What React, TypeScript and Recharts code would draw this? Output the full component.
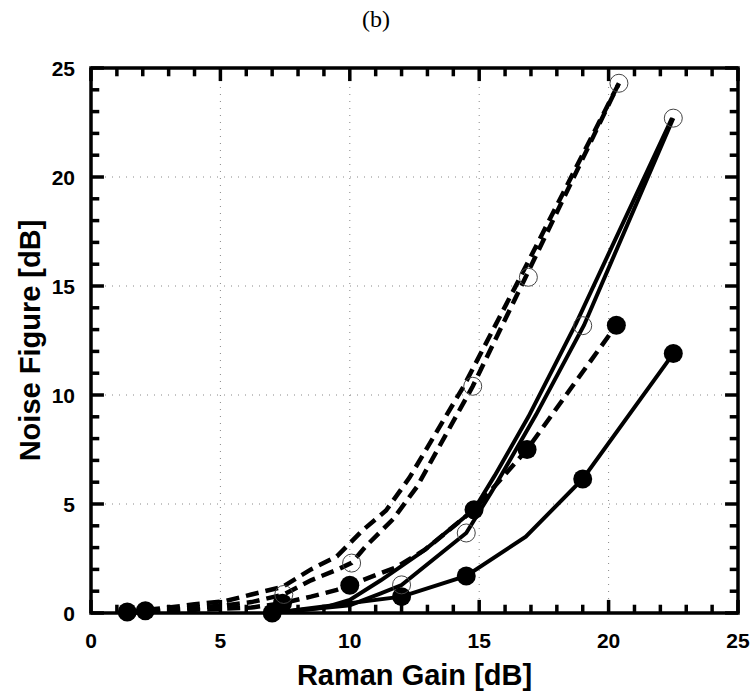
import React from 'react';
import { ComposedChart, Line, Scatter, XAxis, YAxis, ReferenceLine, ReferenceArea } from 'recharts';

// dashed curves
const gainDashA = [1.4, 3.0, 4.0, 5.2, 6.2, 7.4, 8.5, 9.5, 10.5, 11.4, 12.3, 14.4, 16.5, 20.4];
const nfDashA = [0.05, 0.25, 0.4, 0.55, 0.85, 1.2, 2.0, 2.6, 3.8, 4.7, 6.2, 10.4, 15.2, 24.3];
const gainDashB = [1.4, 3.0, 4.0, 5.2, 6.2, 7.45, 8.5, 9.5, 10.07, 10.65, 11.67, 12.6, 14.75, 16.75, 20.4];
const nfDashB = [0.0, 0.15, 0.25, 0.35, 0.5, 0.85, 1.5, 1.98, 2.3, 3.1, 4.3, 5.8, 10.4, 15.3, 24.3];
const gainDashC = [1.4, 2.1, 4.0, 6.2, 7.4, 8.5, 9.5, 10.0, 10.7, 11.8, 12.9, 14.8, 16.85, 18.6, 20.3];
const nfDashC = [0.05, 0.1, 0.15, 0.25, 0.45, 0.75, 1.06, 1.27, 1.6, 2.1, 2.9, 4.74, 7.5, 10.4, 13.2];

// solid curves
const gainSolidA = [7.0, 9.0, 10.0, 11.2, 12.9, 14.8, 15.6, 16.9, 18.75, 22.45];
const nfSolidA = [0.0, 0.25, 0.6, 1.5, 2.9, 4.75, 6.3, 9.0, 13.3, 22.7];
const gainSolidB = [7.0, 10.0, 11.2, 12.0, 14.5, 15.5, 17.2, 19.05, 22.5];
const nfSolidB = [0.0, 0.35, 0.9, 1.28, 3.67, 5.6, 9.1, 13.2, 22.7];
const gainSolidC = [7.0, 12.0, 14.5, 16.8, 19.0, 22.5];
const nfSolidC = [0.0, 0.75, 1.7, 3.5, 6.15, 11.9];

// measured points
const openDashX = [7.45, 10.07, 14.75, 16.9, 20.4];
const openDashY = [0.85, 2.29, 10.4, 15.4, 24.3];
const openSolidX = [12.0, 14.5, 19.0, 22.5];
const openSolidY = [1.29, 3.67, 13.18, 22.7];
const filledDashX = [1.4, 2.1, 7.4, 10.0, 14.8, 16.85, 20.3];
const filledDashY = [0.05, 0.1, 0.45, 1.27, 4.74, 7.5, 13.2];
const filledSolidX = [7.0, 12.0, 14.5, 19.0, 22.5];
const filledSolidY = [0.0, 0.75, 1.7, 6.15, 11.9];

const majorTicks = [0, 5, 10, 15, 20, 25];
const allTicks = [0, 1, 2, 3, 4, 5, 6, 7, 8, 9, 10, 11, 12, 13, 14, 15, 16, 17, 18, 19, 20, 21, 22, 23, 24, 25];
const gridValues = [5, 10, 15, 20];

const zip = (xs: number[], ys: number[]) => xs.map((x, i) => ({ x, y: ys[i] }));

const FONT = '"Liberation Sans", Arial, Helvetica, sans-serif';
const tickStyle = { fontFamily: FONT, fontWeight: 700, fontSize: 21, fill: '#000' };

// inward tick lengths, in axis units
const lenX = (v: number) => (v % 5 === 0 ? 0.6 : 0.38);
const lenY = (v: number) => (v % 5 === 0 ? 0.5 : 0.32);

const BottomLabel = (p: any) => (
  <text x={p.x} y={p.y + 35} textAnchor="middle" style={tickStyle}>{p.payload.value}</text>
);
const LeftLabel = (p: any) => (
  <text x={p.x - 16} y={p.y + 8} textAnchor="end" style={tickStyle}>{p.payload.value}</text>
);

const OpenDot = (p: any) => <circle cx={p.cx} cy={p.cy} r={9} fill="none" stroke="#444" strokeWidth={1} />;
const FilledDot = (p: any) => <circle cx={p.cx} cy={p.cy} r={9.5} fill="#000" stroke="none" />;

export default function App() {
  const dashed = [zip(gainDashA, nfDashA), zip(gainDashB, nfDashB), zip(gainDashC, nfDashC)];
  const solid = [zip(gainSolidA, nfSolidA), zip(gainSolidB, nfSolidB), zip(gainSolidC, nfSolidC)];

  return (
    <div style={{ position: 'absolute', left: 0, top: 0, width: 752, height: 693, background: '#fff' }}>
      <div
        style={{
          position: 'absolute', left: 0, top: 6, width: 752, textAlign: 'center',
          fontFamily: '"Liberation Serif", "Times New Roman", serif', fontSize: 24,
        }}
      >
        (b)
      </div>
      <ComposedChart width={752} height={693} margin={{ top: 68, right: 14, bottom: 0, left: 0 }}>
        <XAxis
          dataKey="x" type="number" domain={[0, 25]} ticks={majorTicks} interval={0}
          orientation="bottom" height={80} tickSize={0} tickMargin={0} tick={BottomLabel} axisLine={false} tickLine={false}
          label={{ value: 'Raman Gain [dB]', position: 'insideBottom', offset: 8, style: { fontFamily: FONT, fontWeight: 700, fontSize: 29, fill: '#000' } }}
        />
        <YAxis
          dataKey="y" type="number" domain={[0, 25]} ticks={majorTicks} interval={0}
          orientation="left" width={91} tickSize={0} tickMargin={0} tick={LeftLabel} axisLine={false} tickLine={false}
          label={{ value: 'Noise Figure [dB]', angle: -90, position: 'insideLeft', offset: 30, style: { textAnchor: 'middle', fontFamily: FONT, fontWeight: 700, fontSize: 29, fill: '#000' } }}
        />

        {gridValues.map((v) => (
          <ReferenceLine key={'gx' + v} x={v} stroke="#888" strokeWidth={1} strokeDasharray="1 6" />
        ))}
        {gridValues.map((v) => (
          <ReferenceLine key={'gy' + v} y={v} stroke="#888" strokeWidth={1} strokeDasharray="1 6" />
        ))}

        {/* inward tick marks on all four sides */}
        {allTicks.map((v) => (
          <ReferenceLine key={'tb' + v} ifOverflow="visible" segment={[{ x: v, y: 0 }, { x: v, y: lenX(v) }]} stroke="#000" strokeWidth={3.5} />
        ))}
        {allTicks.map((v) => (
          <ReferenceLine key={'tt' + v} ifOverflow="visible" segment={[{ x: v, y: 25 }, { x: v, y: 25 - lenX(v) }]} stroke="#000" strokeWidth={3.5} />
        ))}
        {allTicks.map((v) => (
          <ReferenceLine key={'tl' + v} ifOverflow="visible" segment={[{ x: 0, y: v }, { x: lenY(v), y: v }]} stroke="#000" strokeWidth={3.5} />
        ))}
        {allTicks.map((v) => (
          <ReferenceLine key={'tr' + v} ifOverflow="visible" segment={[{ x: 25, y: v }, { x: 25 - lenY(v), y: v }]} stroke="#000" strokeWidth={3.5} />
        ))}

        {dashed.map((d, i) => (
          <Line
            key={'d' + i} data={d} dataKey="y" type="linear"
            stroke="#000" strokeWidth={4.5} strokeDasharray="13 7" dot={false} isAnimationActive={false}
          />
        ))}
        {solid.map((d, i) => (
          <Line
            key={'s' + i} data={d} dataKey="y" type="linear"
            stroke="#000" strokeWidth={4} dot={false} isAnimationActive={false}
          />
        ))}

        <Scatter data={zip(filledDashX, filledDashY)} dataKey="y" shape={FilledDot} isAnimationActive={false} />
        <Scatter data={zip(filledSolidX, filledSolidY)} dataKey="y" shape={FilledDot} isAnimationActive={false} />
        <Scatter data={zip(openDashX, openDashY)} dataKey="y" shape={OpenDot} isAnimationActive={false} />
        <Scatter data={zip(openSolidX, openSolidY)} dataKey="y" shape={OpenDot} isAnimationActive={false} />

        <ReferenceArea
          x1={0} x2={25} y1={0} y2={25}
          fill="none" fillOpacity={0} stroke="#000" strokeWidth={3.5} ifOverflow="visible"
        />
      </ComposedChart>
    </div>
  );
}
